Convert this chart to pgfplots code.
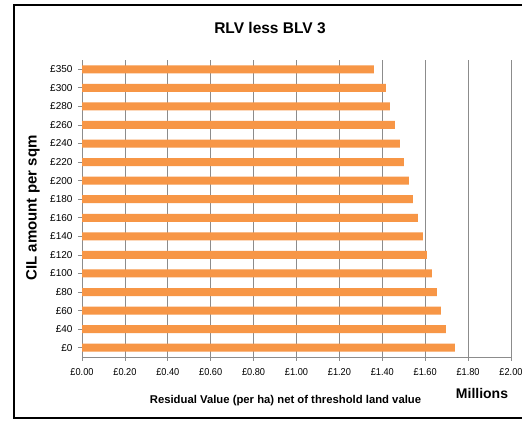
\documentclass[border=0pt]{standalone}
\usepackage{pgfplots}
\pgfplotsset{compat=1.18}
\usepackage{fontspec}
\setmainfont{Liberation Sans}
\definecolor{barorange}{HTML}{F79646}
\definecolor{gridgray}{HTML}{8C8C8C}
\begin{document}
\begin{tikzpicture}[x=1pt,y=1pt]
\path[use as bounding box, fill=white] (0,0) rectangle (522,428);
\draw[line width=1.5pt, black] (540,423) -- (14,423) -- (14,10) -- (540,10);
\begin{axis}[
  at={(82pt,71pt)}, anchor=south west,
  width=429pt, height=297pt, scale only axis,
  xbar, bar width=8pt,
  xmin=0, xmax=2, ymin=-0.5, ymax=15.5,
  xtick={0,0.2,0.4,0.6,0.8,1.0,1.2,1.4,1.6,1.8,2.0},
  xticklabels={£0.00,£0.20,£0.40,£0.60,£0.80,£1.00,£1.20,£1.40,£1.60,£1.80,£2.00},
  ytick={0,...,15},
  yticklabels={£0,£40,£60,£80,£100,£120,£140,£160,£180,£200,£220,£240,£260,£280,£300,£350},
  axis x line*=bottom, axis y line*=left,
  axis line style={gridgray, line width=0.8pt, -},
  xmajorgrids, major grid style={gridgray, line width=0.8pt},
  tick align=outside, major tick length=4pt,
  tick style={gridgray, line width=0.8pt},
  /pgf/number format/assume math mode=true,
  xticklabel style={font=\fontsize{10}{12}\selectfont, xscale=0.92, yshift=-4pt},
  yticklabel style={font=\fontsize{10}{12}\selectfont, xshift=-2pt},
  clip=false,
]
\addplot[fill=barorange, draw=none] coordinates {
(1.738,0) (1.696,1) (1.673,2) (1.654,3) (1.631,4) (1.608,5) (1.589,6) (1.566,7)
(1.543,8) (1.524,9) (1.501,10) (1.482,11) (1.459,12) (1.435,13) (1.417,14) (1.361,15)
};
\end{axis}
\node[font=\fontsize{15.5}{18}\selectfont\bfseries] at (270,400) {RLV less BLV 3};
\node[font=\fontsize{15}{18}\selectfont\bfseries, rotate=90] at (33,220) {CIL amount per sqm};
\node[font=\fontsize{11.3}{13}\selectfont\bfseries] at (285.5,27) {Residual Value (per ha) net of threshold land value};
\node[font=\fontsize{14}{16}\selectfont\bfseries] at (482,35) {Millions};
\end{tikzpicture}
\end{document}
